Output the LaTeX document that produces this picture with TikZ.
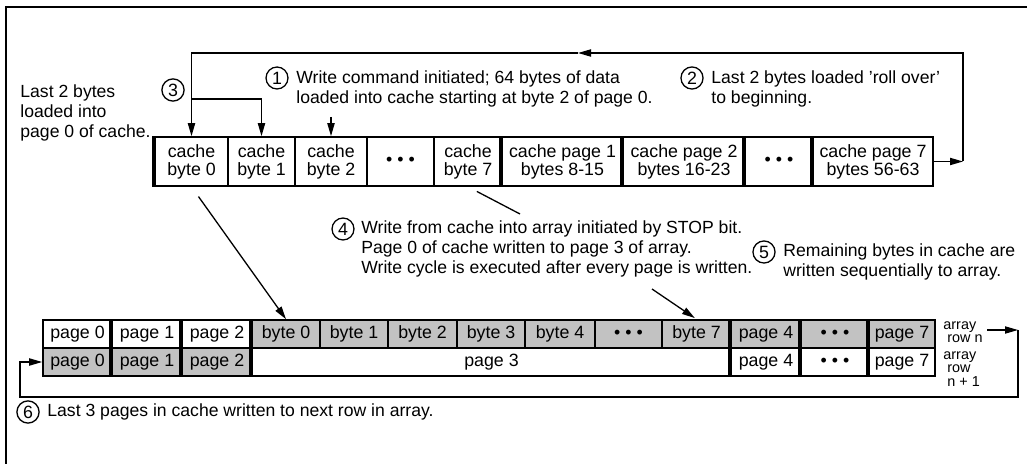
\documentclass[tikz,border=0pt]{standalone}
\usepackage{fontspec}
\setmainfont{Liberation Sans}
\usetikzlibrary{positioning,arrows.meta}

\tikzset{
  cell/.style={draw, line width=0.8pt, inner sep=0pt, align=center,
    minimum height=24.5pt, font=\fontsize{8.9}{9}\selectfont},
  acell/.style={draw, line width=0.8pt, inner sep=0pt,
    minimum height=14pt, font=\fontsize{8.9}{9}\selectfont},
  shaded/.style={fill=black!24},
  sep/.style={line width=1.8pt},
  num/.style={circle, draw, line width=0.65pt, inner sep=1.1pt,
    font=\fontsize{8.9}{9}\selectfont},
  note/.style={anchor=west, align=left, inner sep=0pt,
    font=\fontsize{8.8}{10}\selectfont},
  rowlab/.style={anchor=west, align=left, inner sep=0pt,
    font=\fontsize{7.2}{6.8}\selectfont},
  conn/.style={line width=0.65pt},
  tip/.style={-{Triangle[length=6.5pt,width=3.6pt]}}
}

\newcommand{\dotsbox}{\textbullet\ \textbullet\ \textbullet}

\begin{document}
\begin{tikzpicture}[x=0.5pt,y=-0.5pt]
  \useasboundingbox (0,0) rectangle (1027,464);

  % --- Frame ---
  \draw[line width=0.75pt] (6,470) -- (6,7) -- (1035,7);

  % --- Cache row ---
  \node[cell, minimum width=36.5pt] (cb0) at (191.5,161.5) {cache\\byte 0};
  \node[cell, minimum width=33.5pt] (cb1) at (261.5,161.5) {cache\\byte 1};
  \node[cell, minimum width=36pt]   (cb2) at (331,161.5)   {cache\\byte 2};
  \node[cell, minimum width=33.5pt] (cbd) at (400.5,161.5) {\dotsbox};
  \node[cell, minimum width=34pt]   (cb7) at (468,161.5)   {cache\\byte 7};
  \node[cell, minimum width=60.5pt] (cp1) at (562.5,161.5) {cache page 1\\bytes 8-15};
  \node[cell, minimum width=61pt]   (cp2) at (684,161.5)   {cache page 2\\bytes 16-23};
  \node[cell, minimum width=34pt]   (cpd) at (779,161.5)   {\dotsbox};
  \node[cell, minimum width=60pt]   (cp7) at (873,161.5)   {cache page 7\\bytes 56-63};

  \draw[sep] (cb0.north west) -- (cb0.south west);
  \draw[sep] (cp1.north west) -- (cp1.south west);
  \draw[sep] (cp2.north west) -- (cp2.south west);
  \draw[sep] (cpd.north west) -- (cpd.south west);
  \draw[sep] (cp7.north west) -- (cp7.south west);

  % --- Array row n ---
  \node[acell, minimum width=34.5pt] (a0) at (77.5,334) {page 0};
  \node[acell, minimum width=35pt]   (a1) at (147,334)  {page 1};
  \node[acell, minimum width=35pt]   (a2) at (217,334)  {page 2};
  \node[acell, shaded, minimum width=34pt]   (b0) at (286,334)   {byte 0};
  \node[acell, shaded, minimum width=34pt]   (b1) at (354,334)   {byte 1};
  \node[acell, shaded, minimum width=34.5pt] (b2) at (422.5,334) {byte 2};
  \node[acell, shaded, minimum width=34pt]   (b3) at (491,334)   {byte 3};
  \node[acell, shaded, minimum width=35pt]   (b4) at (560,334)   {byte 4};
  \node[acell, shaded, minimum width=33.5pt] (bd) at (628.5,334) {\dotsbox};
  \node[acell, shaded, minimum width=34.5pt] (b7) at (696.5,334) {byte 7};
  \node[acell, shaded, minimum width=35pt]   (a4) at (766,334)   {page 4};
  \node[acell, shaded, minimum width=34pt]   (ad) at (835,334)   {\dotsbox};
  \node[acell, shaded, minimum width=33pt]   (a7) at (902,334)   {page 7};

  % --- Array row n+1 ---
  \node[acell, shaded, minimum width=34.5pt] (n0) at (77.5,362) {page 0};
  \node[acell, shaded, minimum width=35pt]   (n1) at (147,362)  {page 1};
  \node[acell, shaded, minimum width=35pt]   (n2) at (217,362)  {page 2};
  \node[acell, minimum width=239.5pt] (n3) at (491.5,362) {page 3};
  \node[acell, minimum width=35pt]    (n4) at (766,362)   {page 4};
  \node[acell, minimum width=34pt]    (nd) at (835,362)   {\dotsbox};
  \node[acell, minimum width=33pt]    (n7) at (902,362)   {page 7};

  \draw[sep] (a1.north west) -- (n1.south west);
  \draw[sep] (a2.north west) -- (n2.south west);
  \draw[sep] (b0.north west) -- (n3.south west);
  \draw[sep] (a4.north west) -- (n4.south west);
  \draw[sep] (ad.north west) -- (nd.south west);
  \draw[sep] (a7.north west) -- (n7.south west);

  \node[rowlab] (rown)  at (943,332) {array\\\ row n};
  \node[rowlab] (rown1) at (943,369) {array\\\ row\\\ n + 1};

  % --- Notes ---
  \node[num] (c1) at (277,78) {1};
  \node[note] (t1) at (296,88.5) {Write command initiated; 64 bytes of data\\loaded into cache starting at byte 2 of page 0.};
  \node[num] (c2) at (692,78) {2};
  \node[note] (t2) at (711,88.5) {Last 2 bytes loaded 'roll over'\\to beginning.};
  \node[num] (c3) at (173,90) {3};
  \node[note] (t3) at (20,113) {Last 2 bytes\\loaded into\\page 0 of cache.};
  \node[num] (c4) at (343,229) {4};
  \node[note] (t4) at (361,248.5) {Write from cache into array initiated by STOP bit.\\Page 0 of cache written to page 3 of array.\\Write cycle is executed after every page is written.};
  \node[num] (c5) at (764,252) {5};
  \node[note] (t5) at (783,261.5) {Remaining bytes in cache are\\written sequentially to array.};
  \node[num] (c6) at (28,412) {6};
  \node[note] (t6) at (47,412) {Last 3 pages in cache written to next row in array.};

  % --- Roll over loop ---
  \coordinate (rr) at (963,161.5);
  \coordinate (rt) at (963,53);
  \coordinate (tm) at (578,53);
  \draw[conn,tip] (cp7.east) -- (rr);
  \draw[conn,tip] (rr) -- (rt) -- (tm);
  \draw[conn,tip] (tm) -- (cb0.north |- rt) -- (cb0.north);
  \draw[conn,tip] (cb0.north |- 0,99) -| (cb1.north);
  \draw[conn,tip] (cb2.north |- 0,117) -- (cb2.north);

  % --- Cache to array ---
  \draw[conn,tip,shorten <=6pt] (cb0.south) -- (b0.north);
  \coordinate (l4) at (520,214);
  \draw[conn,shorten <=5pt] (cb7.south) -- (l4);
  \coordinate (s4) at (652,289);
  \draw[conn,tip,shorten >=1pt] (s4) -- (b7.north);

  % --- Next row loop ---
  \coordinate (ra) at (1018,330);
  \coordinate (rb) at (1018,397);
  \coordinate (lb) at (20,397);
  \draw[conn,tip] ([xshift=2pt]rown.east |- ra) -- (ra);
  \draw[conn,tip] (ra) -- (rb) -- (lb) -- (lb |- n0.west) -- (n0.west);

\end{tikzpicture}
\end{document}
